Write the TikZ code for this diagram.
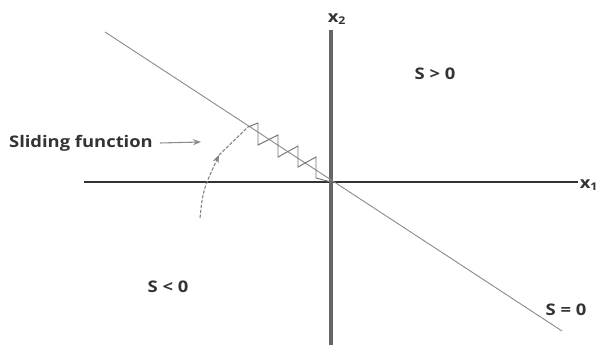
\documentclass[tikz,border=0pt]{standalone}
\usepackage{fontspec}
\setmainfont[FakeStretch=1.15]{Open Sans}
\usetikzlibrary{arrows.meta, positioning}
\tikzset{
  axis/.style={draw=black!80, line width=1.1pt},
  vaxis/.style={draw=black!60, line width=2.3pt},
  surface/.style={draw=black!45, line width=0.7pt},
  chatter/.style={draw=black!55, line width=0.7pt},
  traj/.style={draw=black!50, dashed, dash pattern=on 2.5pt off 1.2pt, line width=0.8pt},
  lbl/.style={font=\bfseries\fontsize{12}{14}\selectfont, text=black!80, inner sep=1pt},
  line/.style={-{Stealth[length=6pt,width=4.5pt]}}
}
\begin{document}
\begin{tikzpicture}[x=0.75pt, y=-0.75pt]
\useasboundingbox (0,0) rectangle (606,345);
% axes
\coordinate (o) at (331,182);
\coordinate (xl) at (84,182);
\coordinate (xr) at (578,182);
\coordinate (yt) at (331,30);
\coordinate (yb) at (331,345);
\draw[axis] (xl) -- (xr);
\draw[vaxis] (yb) -- (yt);
\node[lbl] (x1) at (589,185) {x\textsubscript{1}};
\node[lbl] (x2) at (337,19) {x\textsubscript{2}};
% sliding surface
\coordinate (s0) at (105,32);
\coordinate (s1) at (562,331);
\draw[surface] (s0) -- (s1);
% region labels
\node[lbl] (pos) at (435,74) {S > 0};
\node[lbl] (neg) at (168,287) {S < 0};
\node[lbl] (zero) at (566,310) {S = 0};
% trajectory and chattering
\coordinate (tr0) at (200,218);
\coordinate (tr1) at (219,155);
\coordinate (hit) at (248,127);
\draw[traj, line] (tr0) .. controls (203,190) .. (tr1);
\draw[traj] (tr1) -- (hit);
\draw[chatter] (hit) -- (258,123) -- (258,145) -- (278,135) -- (278,157)
  -- (298,146) -- (298,167) -- (316,157) -- (316,178) -- (o);
\node[lbl] (sf) at (81,143) {Sliding function};
\coordinate (sfend) at (201,142);
\draw[draw=black!45, line width=0.8pt, line] (sf.east) ++(4pt,0) -- (sfend);
\end{tikzpicture}
\end{document}
